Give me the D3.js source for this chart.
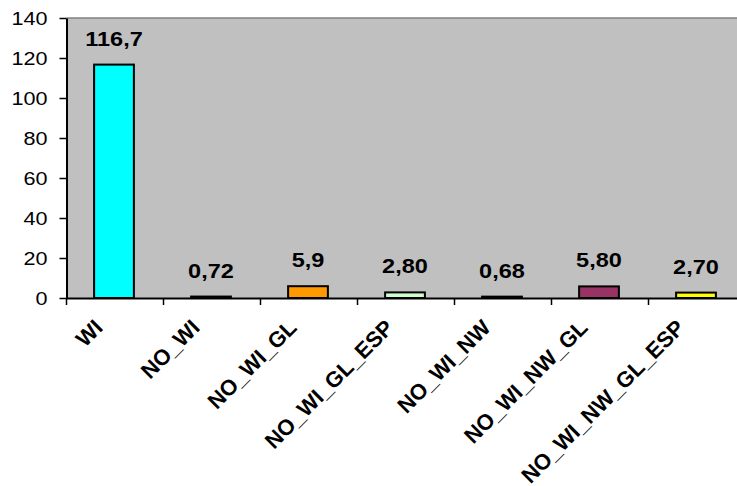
<!DOCTYPE html>
<html>
<head>
<meta charset="utf-8">
<script src="https://cdn.jsdelivr.net/npm/d3@7"></script>
<style>
  html, body { margin: 0; padding: 0; background: #fff; }
  svg { display: block; }
  text { font-family: "Liberation Sans", Arial, sans-serif; fill: #000; }
</style>
</head>
<body>
<svg id="chart" width="737" height="486"></svg>
<script>
// Bar data
const categories = ["WI", "NO_WI", "NO_WI_GL", "NO_WI_GL_ESP", "NO_WI_NW", "NO_WI_NW_GL", "NO_WI_NW_GL_ESP"];
const values = [116.7, 0.72, 5.9, 2.80, 0.68, 5.80, 2.70];
const valueLabels = ["116,7", "0,72", "5,9", "2,80", "0,68", "5,80", "2,70"];
const barColors = ["#00FFFF", "#000080", "#FF9900", "#CCFFCC", "#000080", "#993366", "#FFFF00"];
const yTicks = [0, 20, 40, 60, 80, 100, 120, 140];

const svg = d3.select("#chart");
const plotLeft = 66.5, plotTop = 18, plotBottom = 298, step = 97;
const plotRight = plotLeft + step * categories.length;

const x = d3.scaleBand()
  .domain(categories)
  .range([plotLeft, plotRight])
  .paddingInner(0.59)
  .paddingOuter(0.295);

const y = d3.scaleLinear().domain([0, 140]).range([plotBottom, plotTop]);

// Plot area
svg.append("rect")
  .attr("x", plotLeft).attr("y", plotTop)
  .attr("width", plotRight - plotLeft).attr("height", plotBottom - plotTop)
  .attr("fill", "#C0C0C0");
svg.append("line")
  .attr("x1", plotLeft).attr("x2", plotRight)
  .attr("y1", plotTop).attr("y2", plotTop)
  .attr("stroke", "#808080").attr("stroke-width", 1.5);

// Bars
svg.append("g").selectAll("rect")
  .data(categories)
  .join("rect")
  .attr("x", d => x(d) - 1)
  .attr("y", (d, i) => y(values[i]))
  .attr("width", x.bandwidth())
  .attr("height", (d, i) => y(0) - y(values[i]))
  .attr("fill", (d, i) => barColors[i])
  .attr("stroke", "#000")
  .attr("stroke-width", 2);

// Value labels
svg.append("g").selectAll("text")
  .data(categories)
  .join("text")
  .attr("transform", (d, i) => `translate(${x(d) + x.bandwidth() / 2 - 1},${y(values[i]) - 19}) scale(1.12,1)`)
  .attr("text-anchor", "middle")
  .style("font-size", "21px")
  .style("font-weight", "bold")
  .text((d, i) => valueLabels[i]);

// Y axis
const yAxis = svg.append("g")
  .attr("transform", `translate(${plotLeft},0)`)
  .call(d3.axisLeft(y).tickValues(yTicks).tickSize(7).tickSizeOuter(0).tickPadding(0));
yAxis.select(".domain").attr("stroke", "#000").attr("stroke-width", 2);
yAxis.selectAll(".tick line").attr("stroke", "#000").attr("stroke-width", 1.5);
yAxis.selectAll(".tick text")
  .attr("x", null).attr("dy", null)
  .attr("transform", "translate(-19,6.5) scale(1.2,1)")
  .attr("text-anchor", "end")
  .style("font-size", "18px");

// X axis
const xAxis = svg.append("g")
  .attr("transform", `translate(0,${plotBottom})`)
  .call(d3.axisBottom(x).tickSize(0).tickSizeOuter(0));
xAxis.select(".domain").attr("stroke", "#000").attr("stroke-width", 2);
xAxis.selectAll(".tick text")
  .attr("y", null).attr("dy", null)
  .attr("transform", "translate(-11,31) rotate(-45)")
  .attr("text-anchor", "end")
  .style("font-size", "22px")
  .style("font-weight", "bold");

// Category boundary ticks
xAxis.append("g").selectAll("line")
  .data(categories)
  .join("line")
  .attr("x1", d => x(d) + x.bandwidth() / 2 - x.step() / 2)
  .attr("x2", d => x(d) + x.bandwidth() / 2 - x.step() / 2)
  .attr("y1", 0).attr("y2", 7)
  .attr("stroke", "#000").attr("stroke-width", 1.5);
</script>
</body>
</html>
